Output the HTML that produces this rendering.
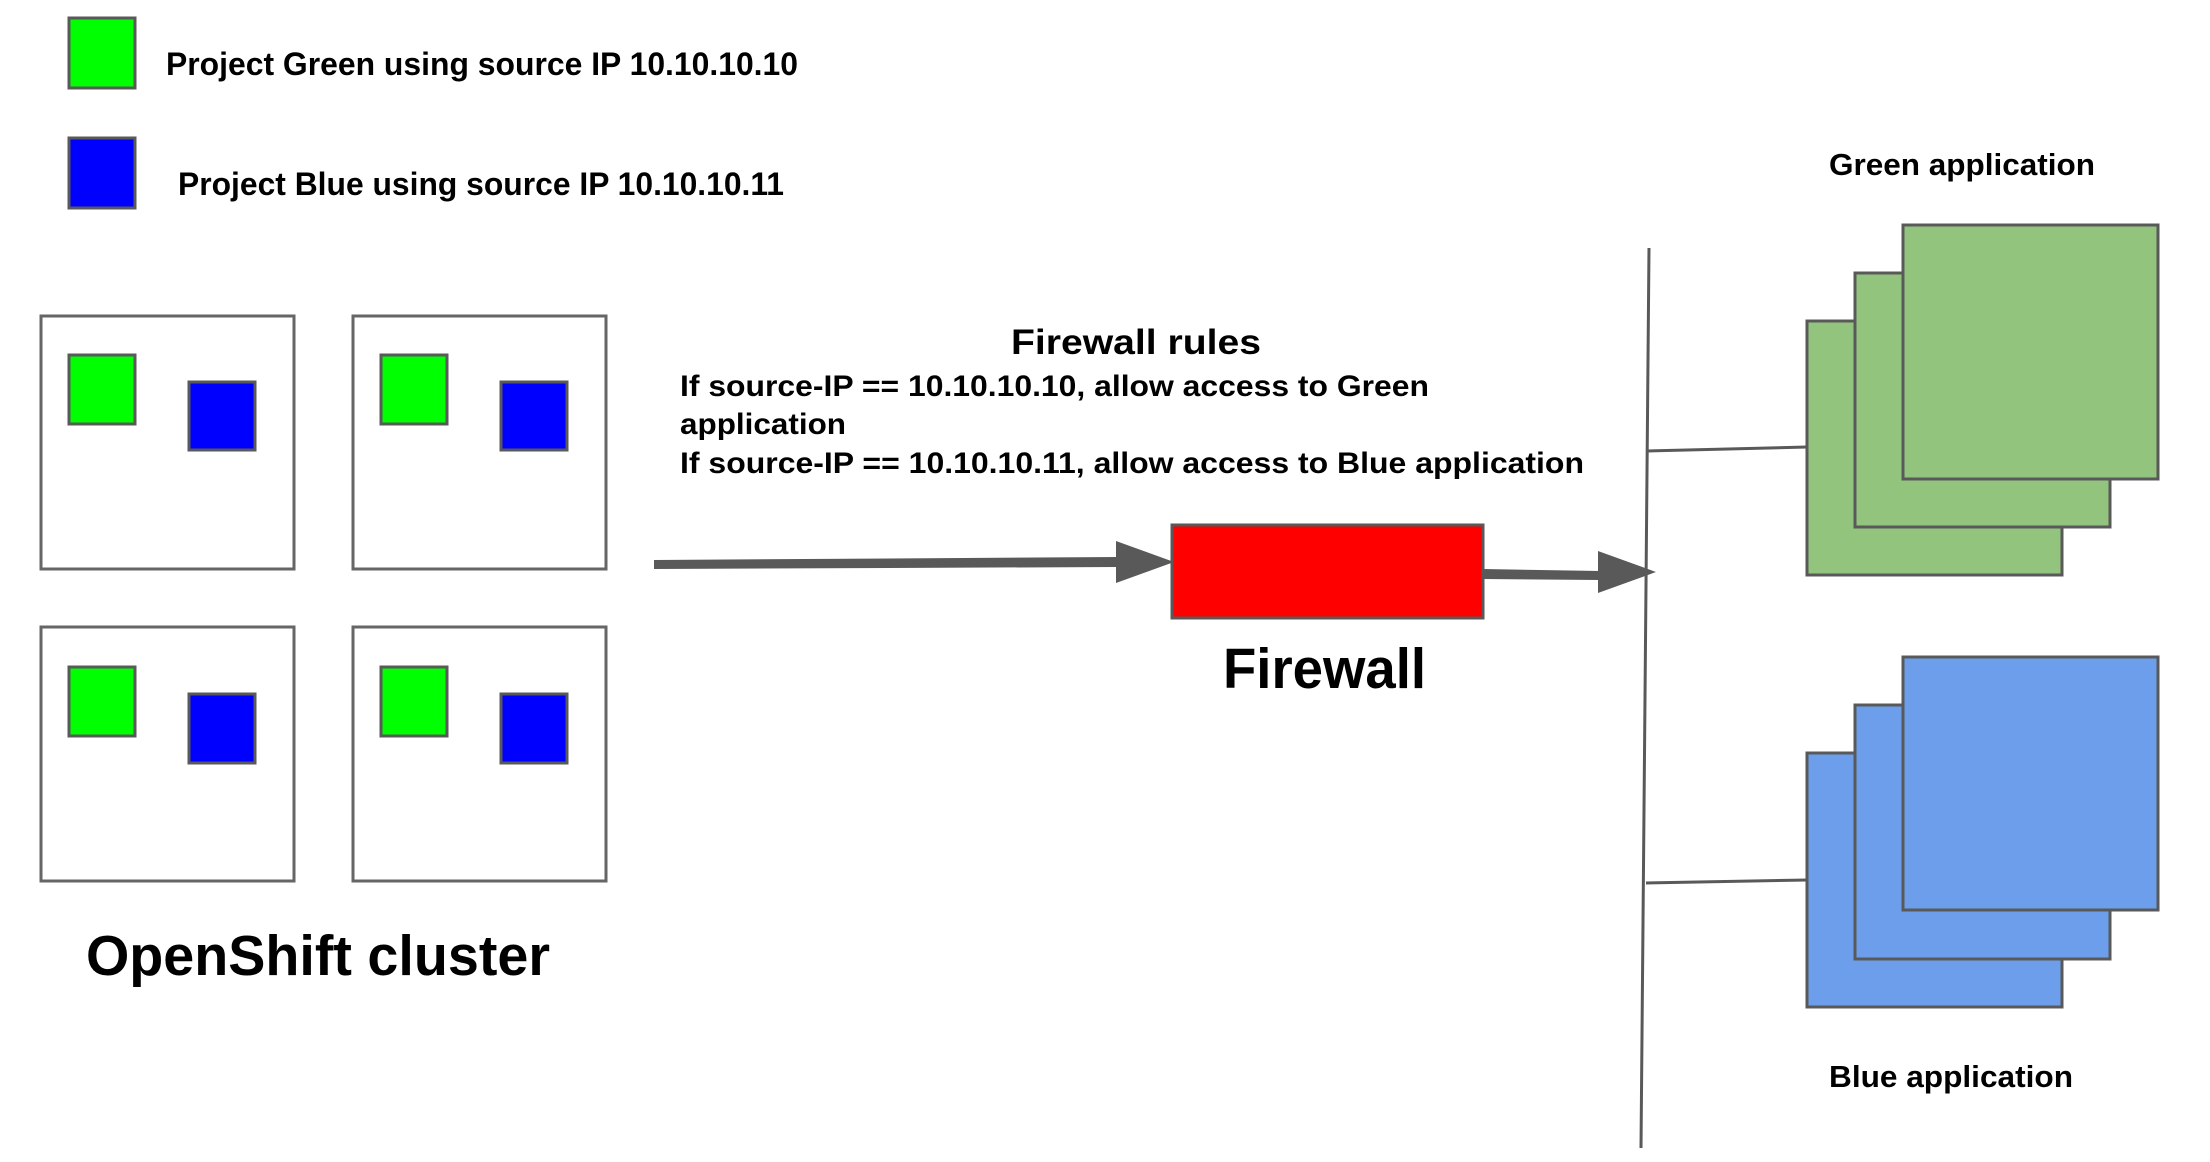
<!DOCTYPE html>
<html><head><meta charset="utf-8"><style>
html,body{margin:0;padding:0;background:#fff;}
svg{display:block;}
text{font-family:"Liberation Sans",Arial,sans-serif;font-weight:bold;fill:#000;}
</style></head><body>
<svg width="2210" height="1162" viewBox="0 0 2210 1162" xmlns="http://www.w3.org/2000/svg">
<g stroke="#595959" stroke-width="3">
<rect x="69" y="18" width="66" height="70" fill="#00ff00"/>
<rect x="69" y="138" width="66" height="70" fill="#0000ff"/>
</g>
<text x="166" y="75" font-size="32" textLength="632" lengthAdjust="spacingAndGlyphs">Project Green using source IP 10.10.10.10</text>
<text x="178" y="195" font-size="32" textLength="606" lengthAdjust="spacingAndGlyphs">Project Blue using source IP 10.10.10.11</text>

<g stroke="#666" stroke-width="3" fill="#fff">
<rect x="41" y="316" width="253" height="253"/>
<rect x="353" y="316" width="253" height="253"/>
<rect x="41" y="627" width="253" height="254"/>
<rect x="353" y="627" width="253" height="254"/>
</g>
<g stroke="#595959" stroke-width="3">
<rect x="69" y="355" width="66" height="69" fill="#00ff00"/>
<rect x="189" y="382" width="66" height="68" fill="#0000ff"/>
<rect x="381" y="355" width="66" height="69" fill="#00ff00"/>
<rect x="501" y="382" width="66" height="68" fill="#0000ff"/>
<rect x="69" y="667" width="66" height="69" fill="#00ff00"/>
<rect x="189" y="694" width="66" height="69" fill="#0000ff"/>
<rect x="381" y="667" width="66" height="69" fill="#00ff00"/>
<rect x="501" y="694" width="66" height="69" fill="#0000ff"/>
</g>
<text x="86" y="975" font-size="57" textLength="464" lengthAdjust="spacingAndGlyphs">OpenShift cluster</text>

<text x="1011" y="354" font-size="35" textLength="250" lengthAdjust="spacingAndGlyphs">Firewall rules</text>
<text x="680" y="396" font-size="30" textLength="749" lengthAdjust="spacingAndGlyphs">If source-IP == 10.10.10.10, allow access to Green</text>
<text x="680" y="434" font-size="30" textLength="166" lengthAdjust="spacingAndGlyphs">application</text>
<text x="680" y="473" font-size="30" textLength="904" lengthAdjust="spacingAndGlyphs">If source-IP == 10.10.10.11, allow access to Blue application</text>

<polygon points="654,560 1118,557 1118,567 654,569" fill="#595959"/>
<polygon points="1116,541 1174,562 1116,583" fill="#595959"/>
<rect x="1172" y="525" width="311" height="93" fill="#ff0000" stroke="#595959" stroke-width="3"/>
<text x="1223" y="688" font-size="57" textLength="203" lengthAdjust="spacingAndGlyphs">Firewall</text>
<polygon points="1483,569 1600,571 1600,580 1483,579" fill="#595959"/>
<polygon points="1598,551 1656,572 1598,593" fill="#595959"/>

<line x1="1649" y1="248" x2="1641" y2="1148" stroke="#595959" stroke-width="3"/>
<line x1="1648" y1="451" x2="1807" y2="447" stroke="#595959" stroke-width="3"/>
<line x1="1646" y1="883" x2="1807" y2="880" stroke="#595959" stroke-width="3"/>

<g stroke="#595959" stroke-width="3" fill="#93c47d">
<rect x="1807" y="321" width="255" height="254"/>
<rect x="1855" y="273" width="255" height="254"/>
<rect x="1903" y="225" width="255" height="254"/>
</g>
<g stroke="#595959" stroke-width="3" fill="#6d9eeb">
<rect x="1807" y="753" width="255" height="254"/>
<rect x="1855" y="705" width="255" height="254"/>
<rect x="1903" y="657" width="255" height="253"/>
</g>
<text x="1829" y="175" font-size="31" textLength="266" lengthAdjust="spacingAndGlyphs">Green application</text>
<text x="1829" y="1087" font-size="31" textLength="244" lengthAdjust="spacingAndGlyphs">Blue application</text>
</svg>
</body></html>
